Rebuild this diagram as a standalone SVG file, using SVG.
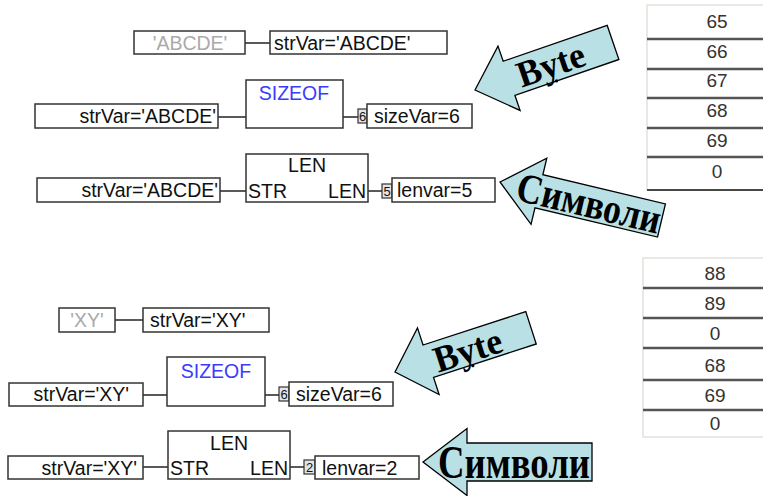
<svg xmlns="http://www.w3.org/2000/svg" width="763" height="496" viewBox="0 0 763 496">
  <style>
    .box { fill: #fff; stroke: #333; stroke-width: 1.5; }
    .t { font-family: "Liberation Sans", Arial, sans-serif; font-size: 19.5px; fill: #111; }
    .gray { fill: #aaa; }
    .blue { fill: #3b3bff; }
    .pin { fill: #e4e4e4; stroke: #333; stroke-width: 1.2; }
    .pn { font-family: "Liberation Sans", Arial, sans-serif; font-size: 13px; fill: #111; }
    .wire { stroke: #222; stroke-width: 1.5; fill: none; }
    .arrow { fill: #b9e1e5; stroke: #000; stroke-width: 1.3; stroke-linejoin: miter; }
    .big { font-family: "Liberation Serif", "Times New Roman", serif; font-weight: bold; fill: #000; }
    .cell { font-family: "Liberation Sans", Arial, sans-serif; font-size: 19px; fill: #333; text-anchor: middle; }
    .sep { stroke: #555; stroke-width: 2.5; }
    .frame { fill: #fff; stroke: #e2e2dc; stroke-width: 1.5; }
  </style>

  <!-- connectors -->
  <g id="connectors">
    <line class="wire" x1="245" y1="43" x2="270" y2="43"/>
    <line class="wire" x1="218" y1="117" x2="246" y2="117"/>
    <line class="wire" x1="343" y1="117" x2="358" y2="117"/>
    <line class="wire" x1="220" y1="191" x2="246" y2="191"/>
    <line class="wire" x1="368" y1="191" x2="382" y2="191"/>
    <line class="wire" x1="115" y1="320" x2="143" y2="320"/>
    <line class="wire" x1="143" y1="395" x2="167" y2="395"/>
    <line class="wire" x1="265" y1="395" x2="279" y2="395"/>
    <line class="wire" x1="143" y1="467" x2="168" y2="467"/>
    <line class="wire" x1="290" y1="467" x2="304" y2="467"/>
  </g>

  <!-- block 1: assignment 'ABCDE' -->
  <g id="constABCDE">
    <rect class="box" x="134" y="31" width="111" height="23"/>
    <text class="t gray" x="190" y="50" text-anchor="middle">'ABCDE'</text>
  </g>
  <g id="strVarAssign1">
    <rect class="box" x="270" y="31" width="177" height="23"/>
    <text class="t" x="274" y="50">strVar='ABCDE'</text>
  </g>

  <!-- block 2: SIZEOF -->
  <g id="strVarIn1">
    <rect class="box" x="35" y="104" width="183" height="24"/>
    <text class="t" x="216" y="123" text-anchor="end">strVar='ABCDE'</text>
  </g>
  <g id="sizeof1">
    <rect class="box" x="246" y="80" width="97" height="48"/>
    <text class="t blue" x="294" y="100" text-anchor="middle">SIZEOF</text>
  </g>
  <g id="sizeVar1">
    <rect class="pin" x="358" y="109" width="9" height="14"/>
    <text class="pn" x="362.5" y="121" text-anchor="middle">6</text>
    <rect class="box" x="367" y="104" width="105" height="24"/>
    <text class="t" x="374" y="123">sizeVar=6</text>
  </g>

  <!-- block 3: LEN -->
  <g id="strVarIn2">
    <rect class="box" x="37" y="178" width="183" height="24"/>
    <text class="t" x="218" y="197" text-anchor="end">strVar='ABCDE'</text>
  </g>
  <g id="len1">
    <rect class="box" x="246" y="154" width="122" height="48"/>
    <text class="t" x="307" y="172" text-anchor="middle">LEN</text>
    <text class="t" x="248" y="198">STR</text>
    <text class="t" x="366" y="198" text-anchor="end">LEN</text>
  </g>
  <g id="lenvar1">
    <rect class="pin" x="382" y="184" width="10" height="14"/>
    <text class="pn" x="387" y="196" text-anchor="middle">5</text>
    <rect class="box" x="392" y="178" width="103" height="24"/>
    <text class="t" x="397" y="197">lenvar=5</text>
  </g>

  <!-- block 4: assignment 'XY' -->
  <g id="constXY">
    <rect class="box" x="59" y="308" width="56" height="24"/>
    <text class="t gray" x="87" y="327" text-anchor="middle">'XY'</text>
  </g>
  <g id="strVarAssign2">
    <rect class="box" x="143" y="308" width="126" height="24"/>
    <text class="t" x="150" y="327">strVar='XY'</text>
  </g>

  <!-- block 5: SIZEOF -->
  <g id="strVarIn3">
    <rect class="box" x="9" y="383" width="134" height="23"/>
    <text class="t" x="129" y="401" text-anchor="end">strVar='XY'</text>
  </g>
  <g id="sizeof2">
    <rect class="box" x="167" y="357" width="98" height="49"/>
    <text class="t blue" x="216" y="378" text-anchor="middle">SIZEOF</text>
  </g>
  <g id="sizeVar2">
    <rect class="pin" x="279" y="387" width="10" height="14"/>
    <text class="pn" x="284" y="399" text-anchor="middle">6</text>
    <rect class="box" x="289" y="382" width="104" height="24"/>
    <text class="t" x="296" y="401">sizeVar=6</text>
  </g>

  <!-- block 6: LEN -->
  <g id="strVarIn4">
    <rect class="box" x="8" y="456" width="135" height="23"/>
    <text class="t" x="137" y="475" text-anchor="end">strVar='XY'</text>
  </g>
  <g id="len2">
    <rect class="box" x="168" y="431" width="122" height="48"/>
    <text class="t" x="229" y="450" text-anchor="middle">LEN</text>
    <text class="t" x="170" y="475">STR</text>
    <text class="t" x="288" y="475" text-anchor="end">LEN</text>
  </g>
  <g id="lenvar2">
    <rect class="pin" x="304" y="460" width="11" height="14"/>
    <text class="pn" x="309.5" y="472" text-anchor="middle">2</text>
    <rect class="box" x="315" y="456" width="104" height="23"/>
    <text class="t" x="322" y="475">lenvar=2</text>
  </g>

  <!-- memory tables -->
  <g id="memory1">
    <rect class="frame" x="647" y="5" width="120" height="185"/>
    <line class="sep" x1="647" y1="39" x2="763" y2="39"/>
    <line class="sep" x1="647" y1="69" x2="763" y2="69"/>
    <line class="sep" x1="647" y1="98" x2="763" y2="98"/>
    <line class="sep" x1="647" y1="128" x2="763" y2="128"/>
    <line class="sep" x1="647" y1="157" x2="763" y2="157"/>
    <line x1="647" y1="190" x2="763" y2="190" stroke="#111" stroke-width="1.5"/>
    <text class="cell" x="717" y="28">65</text>
    <text class="cell" x="717" y="58">66</text>
    <text class="cell" x="717" y="87">67</text>
    <text class="cell" x="717" y="117">68</text>
    <text class="cell" x="717" y="147">69</text>
    <text class="cell" x="717" y="178">0</text>
  </g>
  <g id="memory2">
    <rect class="frame" x="643" y="258" width="124" height="179"/>
    <line class="sep" x1="643" y1="288" x2="763" y2="288"/>
    <line class="sep" x1="643" y1="318" x2="763" y2="318"/>
    <line class="sep" x1="643" y1="348" x2="763" y2="348"/>
    <line class="sep" x1="643" y1="380" x2="763" y2="380"/>
    <line class="sep" x1="643" y1="410" x2="763" y2="410"/>
    <text class="cell" x="715" y="280">88</text>
    <text class="cell" x="715" y="310">89</text>
    <text class="cell" x="715" y="340">0</text>
    <text class="cell" x="715" y="372">68</text>
    <text class="cell" x="715" y="402">69</text>
    <text class="cell" x="715" y="430">0</text>
  </g>

  <!-- callout arrows -->
  <g id="calloutByte1" transform="translate(475,90) rotate(-19)">
    <polygon class="arrow" points="0,0 36,-34 36,-18 146,-18 146,18 36,18 36,34"/>
    <text class="big" x="80" y="13" font-size="37" text-anchor="middle" textLength="70" lengthAdjust="spacingAndGlyphs">Byte</text>
    <circle cx="80" cy="18" r="1.6" fill="#000"/>
  </g>
  <g id="calloutChars1" transform="translate(500,182) rotate(13.4)">
    <polygon class="arrow" points="0,0 40,-34 40,-17 166,-17 166,17 40,17 40,34"/>
    <text class="big" x="18" y="14" font-size="42" textLength="147" lengthAdjust="spacingAndGlyphs">Символи</text>
  </g>
  <g id="calloutByte2" transform="translate(395,372) rotate(-18)">
    <polygon class="arrow" points="0,0 35,-35 35,-17 143,-17 143,17 35,17 35,35"/>
    <text class="big" x="76" y="14" font-size="37" text-anchor="middle" textLength="70" lengthAdjust="spacingAndGlyphs">Byte</text>
    <circle cx="76" cy="18" r="1.6" fill="#000"/>
  </g>
  <g id="calloutChars2">
    <polygon class="arrow" points="423,462 467,428.5 467,443 592,443 592,481 467,481 467,495.5"/>
    <text class="big" x="438" y="478" font-size="46" textLength="152" lengthAdjust="spacingAndGlyphs">Символи</text>
  </g>
</svg>
